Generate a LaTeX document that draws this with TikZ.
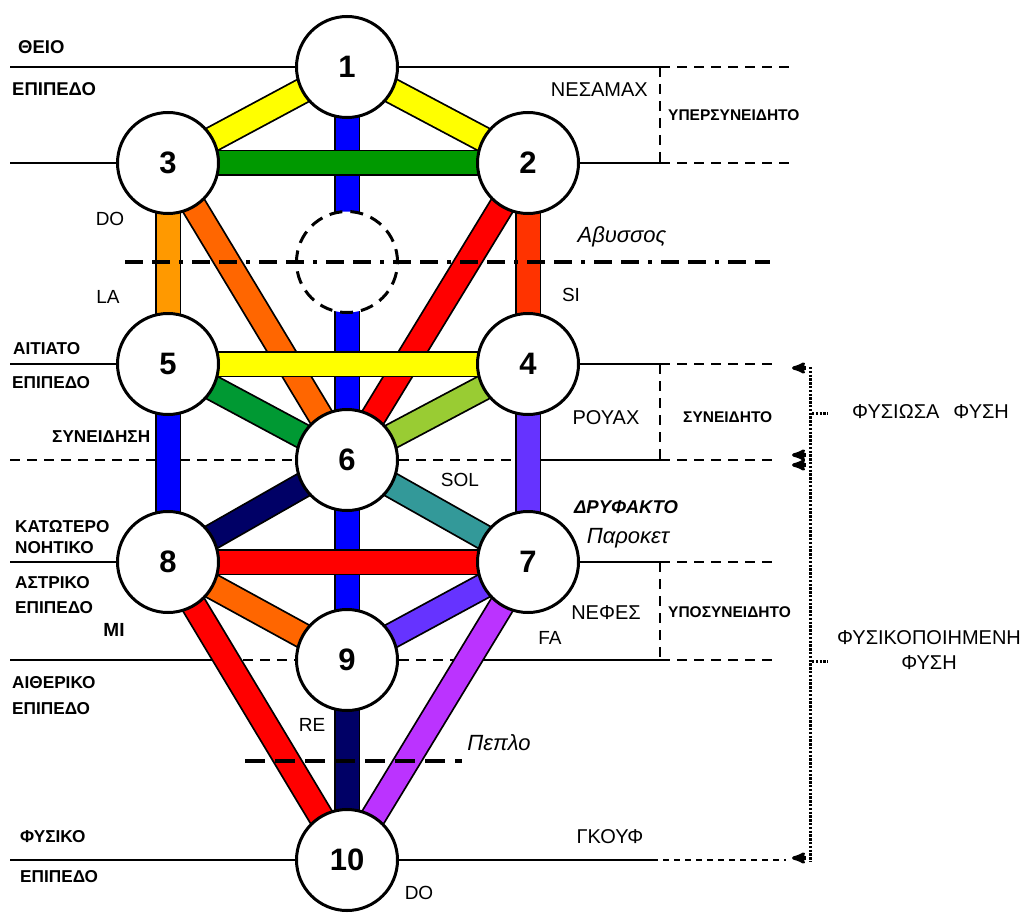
\documentclass[tikz,border=0pt]{standalone}
\usepackage{fontspec}
\setmainfont{Liberation Sans}
\usepackage{tikz}
\usetikzlibrary{arrows}
\pgfdeclarelayer{back}
\pgfsetlayers{back,main}
\definecolor{cNavy}{RGB}{0,0,102}
\definecolor{cBlue}{RGB}{0,0,255}
\definecolor{cYellow}{RGB}{255,255,0}
\definecolor{cGreen}{RGB}{0,153,0}
\definecolor{cGreenB}{RGB}{0,153,51}
\definecolor{cLime}{RGB}{153,204,51}
\definecolor{cOrange}{RGB}{255,153,0}
\definecolor{cOrangeB}{RGB}{255,102,0}
\definecolor{cRed}{RGB}{255,0,0}
\definecolor{cRedB}{RGB}{255,51,0}
\definecolor{cTeal}{RGB}{51,153,153}
\definecolor{cViolet}{RGB}{102,51,255}
\definecolor{cPurple}{RGB}{187,51,255}

\begin{document}
\begin{tikzpicture}[x=1pt,y=-1pt]
      \tikzstyle{every node} = [inner sep = 0pt];
      \tikzstyle{sefira} = [draw, circle, fill=white, line width=3pt, minimum size=101pt, font=\bfseries\fontsize{31}{31}\selectfont];
      \tikzstyle{canal} = [draw=black, line width=1.8pt, double distance=23pt];
      \tikzstyle{rule} = [line width=2.2pt];
      \tikzstyle{dashrule} = [line width=2pt, dash pattern=on 10pt off 7pt];
      \tikzstyle{bracket} = [line width=3pt, dash pattern=on 2.4pt off 1.4pt];
      \tikzstyle{side} = [anchor=west, font=\bfseries\fontsize{17.2}{17.2}\selectfont];
      \tikzstyle{band} = [anchor=west, font=\bfseries\fontsize{15.5}{15.5}\selectfont];
      \tikzstyle{soul} = [font=\fontsize{20}{20}\selectfont];
      \tikzstyle{note} = [font=\fontsize{19}{19}\selectfont];
      \tikzstyle{veil} = [font=\itshape\fontsize{22}{22}\selectfont];
      \useasboundingbox (0,0) rectangle (1027,912);
      \begin{scope}
        \foreach \n/\x/\y in {1/347/67, 2/528/163, 3/168/163, 4/528/364, 5/168/364, 6/347/460, 7/528/562, 8/168/562, 9/347/660, 10/347/860}{
          \node(n\n) [sefira] at (\x,\y) {\n};
        }
        \node(abyss) [draw, circle, fill=white, line width=3pt, dash pattern=on 13pt off 8pt, minimum size=101pt] at (347,262) {};
        \begin{pgfonlayer}{back}
          \draw[rule] (10,67) -- (n1.west);
          \draw[rule] (n1.east) -- (660,67);
          \draw[dashrule] (660,67) -- (795,67);
          \draw[rule] (10,163) -- (n3.west);
          \draw[rule] (n2.east) -- (660,163);
          \draw[dashrule] (660,163) -- (795,163);
          \draw[dashrule] (660,67) -- (660,163);
          \draw[rule] (10,364) -- (n5.west);
          \draw[rule] (n4.east) -- (660,364);
          \draw[dashrule] (660,364) -- (772,364);
          \draw[dashrule] (10,460) -- (n6.west);
          \draw[dashrule] (n6.east) -- (528,460);
          \draw[rule] (528,460) -- (660,460);
          \draw[dashrule] (660,460) -- (772,460);
          \draw[dashrule] (660,364) -- (660,460);
          \draw[rule] (10,562) -- (n8.west);
          \draw[rule] (n7.east) -- (660,562);
          \draw[dashrule] (660,562) -- (772,562);
          \draw[rule] (10,660) -- (226,660);
          \draw[dashrule] (226,660) -- (n9.west);
          \draw[dashrule] (n9.east) -- (469,660);
          \draw[rule] (469,660) -- (660,660);
          \draw[dashrule] (660,660) -- (772,660);
          \draw[dashrule] (660,562) -- (660,660);
          \draw[rule] (10,860) -- (n10.west);
          \draw[rule] (n10.east) -- (652,860);
          \draw[line width=1.4pt, dash pattern=on 6pt off 5pt] (652,860) -- (786,860);
          \foreach \a/\b/\c in {1/6/cBlue, 6/9/cBlue, 9/10/cNavy, 1/2/cYellow, 1/3/cYellow, 3/5/cOrange, 3/6/cOrangeB, 2/4/cRedB, 2/6/cRed, 5/6/cGreenB, 4/6/cLime, 5/8/cBlue, 4/7/cViolet, 6/8/cNavy, 6/7/cTeal, 8/9/cOrangeB, 7/9/cViolet, 8/10/cRed, 7/10/cPurple, 3/2/cGreen, 5/4/cYellow, 8/7/cRed}{
            \draw[canal, double=\c] (n\a.center) -- (n\b.center);
          }
        \end{pgfonlayer}
        \draw[line width=3.5pt, dash pattern=on 18pt off 9pt on 18pt off 9pt on 4pt off 9pt] (125,262) -- (770,262);
        \draw[line width=4pt, dash pattern=on 20pt off 10pt] (245,761) -- (462,761);
        \draw[bracket] (810,367) -- (810,862);
        \draw[bracket] (812,413) -- (828,413);
        \draw[bracket] (812,661) -- (828,661);
        \foreach \y in {368,455,465,858}{
          \path[->,>=stealth'] (806,\y) edge[line width=3.2pt] (792,\y);
        }
      \end{scope}
      \node(theio) [side, font=\bfseries\fontsize{18.5}{18.5}\selectfont] at (18,47) {ΘΕΙΟ};
      \node(epA) [side, font=\bfseries\fontsize{18.5}{18.5}\selectfont] at (12,89) {ΕΠΙΠΕΔΟ};
      \node(aitiato) [side] at (13,349) {ΑΙΤΙΑΤΟ};
      \node(epB) [side] at (12,383) {ΕΠΙΠΕΔΟ};
      \node(syneidisi) [side] at (52,437) {ΣΥΝΕΙΔΗΣΗ};
      \node(katotero) [side] at (15,527) {ΚΑΤΩΤΕΡΟ};
      \node(noitiko) [side] at (15,548) {ΝΟΗΤΙΚΟ};
      \node(astriko) [side] at (15,583) {ΑΣΤΡΙΚΟ};
      \node(epC) [side] at (15,608) {ΕΠΙΠΕΔΟ};
      \node(aitheriko) [side] at (12,683) {ΑΙΘΕΡΙΚΟ};
      \node(epD) [side] at (12,709) {ΕΠΙΠΕΔΟ};
      \node(fysiko) [side] at (20,837) {ΦΥΣΙΚΟ};
      \node(epE) [side] at (20,877) {ΕΠΙΠΕΔΟ};
      \node(yper) [band] at (668,115) {ΥΠΕΡΣΥΝΕΙΔΗΤΟ};
      \node(syn) [band] at (683,417) {ΣΥΝΕΙΔΗΤΟ};
      \node(ypo) [band] at (668,612) {ΥΠΟΣΥΝΕΙΔΗΤΟ};
      \node(nesamax) [soul, anchor=east] at (648,90) {ΝΕΣΑΜΑΧ};
      \node(rouax) [soul] at (606,418) {ΡΟΥΑΧ};
      \node(nefes) [soul] at (606,613) {ΝΕΦΕΣ};
      \node(gkouf) [soul] at (610,837) {ΓΚΟΥΦ};
      \node(fysiosa) [soul, anchor=west] at (852,412) {ΦΥΣΙΩΣΑ\hspace{14pt}ΦΥΣΗ};
      \node(fysikop) [soul] at (929,638) {ΦΥΣΙΚΟΠΟΙΗΜΕΝΗ};
      \node(fysi) [soul] at (929,663) {ΦΥΣΗ};
      \node(doA) [note] at (110,219) {DO};
      \node(la) [note] at (108,297) {LA};
      \node(si) [note] at (571,295) {SI};
      \node(sol) [note] at (460,480) {SOL};
      \node(mi) [note, font=\bfseries\fontsize{19}{19}\selectfont] at (114,630) {MI};
      \node(fa) [note] at (550,638) {FA};
      \node(re) [note] at (312,725) {RE};
      \node(doB) [note] at (419,893) {DO};
      \node(abyssos) [veil] at (622,237) {Αβυσσος};
      \node(drufakto) [veil, font=\bfseries\itshape\fontsize{18.5}{18.5}\selectfont] at (626,507) {ΔΡΥΦΑΚΤΟ};
      \node(paroket) [veil] at (628,538) {Παροκετ};
      \node(peplo) [veil] at (499,743) {Πεπλο};
    \end{tikzpicture}
\end{document}
